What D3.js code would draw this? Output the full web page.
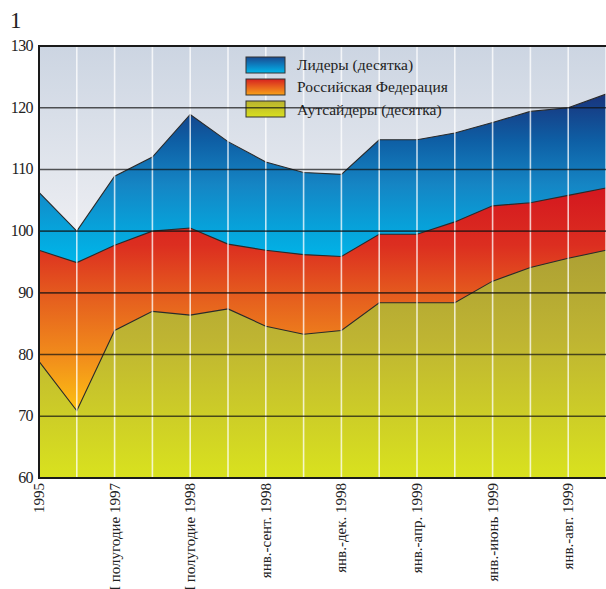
<!DOCTYPE html>
<meta charset="utf-8">
<head>
<title>Индекс</title>
<script src="https://d3js.org/d3.v7.min.js"></script>
<style>
  body { margin: 0; background: #fff; }
  svg text { font-family: "Liberation Serif", "DejaVu Serif", serif; fill: #222; }
</style>
</head>
<body>
<div id="chart"></div>
<script>
    // tick labels along the bottom (every second point is labelled)
    let periods = ["1995", "", "I полугодие 1997", "", "I полугодие 1998", "", "янв.-сент. 1998", "",
                   "янв.-дек. 1998", "", "янв.-апр. 1999", "", "янв.-июнь 1999", "", "янв.-авг. 1999", ""];
    let leaders   = [106.3, 100.0, 108.9, 112.0, 118.9, 114.5, 111.2, 109.5, 109.2, 114.8, 114.8, 115.9, 117.6, 119.4, 120.0, 122.2];
    let russia    = [96.9, 94.9, 97.7, 100.0, 100.5, 97.9, 96.9, 96.2, 95.9, 99.5, 99.5, 101.5, 104.1, 104.6, 105.8, 107.0];
    let outsiders = [78.9, 70.9, 83.9, 87.0, 86.4, 87.4, 84.6, 83.3, 83.9, 88.4, 88.4, 88.4, 91.9, 94.1, 95.6, 96.9];
    let yTicks = [60, 70, 80, 90, 100, 110, 120, 130];
    let seriesNames = ["Лидеры (десятка)", "Российская Федерация", "Аутсайдеры (десятка)"];

    let w = 606, h = 589;
    let mLeft = 39, mRight = 606, mTop = 46, mBottom = 478;
    let serif = "'Liberation Serif', 'DejaVu Serif', serif";

    let svg = d3.select("#chart").append("svg")
                .attr("width", w)
                .attr("height", h)

    let x = d3.scalePoint().domain(d3.range(periods.length)).range([mLeft, mRight]);
    let y = d3.scaleLinear().domain([60, 130]).range([mBottom, mTop]);

    let defs = svg.append("defs");
    function grad(id, stops, y1, y2) {
        let g = defs.append("linearGradient").attr("id", id)
                    .attr("gradientUnits", "userSpaceOnUse")
                    .attr("x1", 0).attr("x2", 0).attr("y1", y1).attr("y2", y2);
        stops.forEach((s) => g.append("stop").attr("offset", s[0]).attr("stop-color", s[1]));
    }
    grad("bg", [[0, "#ccd5e2"], [1, "#f2f2f5"]], mTop, y(95));
    grad("blue", [[0, "#1a2f78"], [0.3, "#0e5fa5"], [0.55, "#1585c4"], [0.8, "#07a2da"], [1, "#00b6e9"]], y(123), y(95));
    grad("red", [[0, "#d4171f"], [0.25, "#dc2e20"], [0.5, "#e6621e"], [0.75, "#f28f1b"], [1, "#fec611"]], y(107), y(70));
    grad("olive", [[0, "#ada034"], [0.4, "#bfb532"], [1, "#d9e21e"]], y(97), y(60));
    // legend swatch gradients
    grad("lblue", [[0, "#1a4a90"], [0.5, "#0d7fc0"], [1, "#00b6e9"]], 57, 73);
    grad("lred", [[0, "#d41a1f"], [0.5, "#e65a1e"], [1, "#f59a1a"]], 78, 94);
    grad("lolive", [[0, "#b8b030"], [1, "#d6dc20"]], 100, 116);

    svg.append("rect")
       .attr("x", mLeft).attr("y", mTop)
       .attr("width", mRight - mLeft).attr("height", mBottom - mTop)
       .style("fill", "url(#bg)")

    let idx = d3.range(periods.length);
    let area = (vals) => d3.area().x((i) => x(i)).y0(y(60)).y1((i) => y(vals[i]))(idx);
    let line = (vals) => d3.line().x((i) => x(i)).y((i) => y(vals[i]))(idx);

    [[leaders, "blue"], [russia, "red"], [outsiders, "olive"]].forEach((s) => {
        svg.append("path").attr("d", area(s[0])).style("fill", "url(#" + s[1] + ")");
    });
    [leaders, russia, outsiders].forEach((v) => {
        svg.append("path").attr("d", line(v))
           .style("fill", "none").style("stroke", "#2a2a2a").style("stroke-width", 1.1);
    });

    // white vertical lines at every point
    svg.selectAll("line.v")
       .data(idx.slice(1))
       .enter()
       .append("line")
       .attr("x1", (i) => x(i)).attr("x2", (i) => x(i))
       .attr("y1", mTop).attr("y2", mBottom)
       .style("stroke", "#fff").style("stroke-opacity", 0.75).style("stroke-width", 1.6)

    // legend
    let lg = svg.append("g");
    ["lblue", "lred", "lolive"].forEach((g, k) => {
        lg.append("rect")
          .attr("x", 246).attr("y", 57 + k * 22)
          .attr("width", 39).attr("height", 16)
          .style("fill", "url(#" + g + ")").style("stroke", "#333").style("stroke-width", 1);
        lg.append("text")
          .attr("x", 297).attr("y", 70 + k * 22.3)
          .style("font-family", serif)
          .style("font-size", "15.5px")
          .text(seriesNames[k]);
    });

    // horizontal gridlines
    svg.selectAll("line.h")
       .data(yTicks.slice(1, -1))
       .enter()
       .append("line")
       .attr("x1", mLeft).attr("x2", mRight)
       .attr("y1", (d) => y(d)).attr("y2", (d) => y(d))
       .style("stroke", "#111").style("stroke-opacity", 0.7).style("stroke-width", 1.6)

    // frame
    svg.append("path")
       .attr("d", "M" + mRight + "," + mTop + "H" + mLeft + "V" + mBottom + "H" + mRight)
       .style("fill", "none").style("stroke", "#1a1a1a").style("stroke-width", 2)

    svg.selectAll("text.y")
       .data(yTicks)
       .enter()
       .append("text")
       .attr("x", 33)
       .attr("y", (d) => y(d) + 5)
       .attr("text-anchor", "end")
       .style("font-family", serif)
       .style("font-size", "16px")
       .style("letter-spacing", "-0.6px")
       .text((d) => d)

    svg.selectAll("text.x")
       .data(idx.filter((i) => periods[i] !== ""))
       .enter()
       .append("text")
       .attr("transform", (i) => "translate(" + (x(i) + 5) + "," + (mBottom + 5) + ") rotate(-90)")
       .attr("text-anchor", "end")
       .style("font-family", serif)
       .style("font-size", "15px")
       .text((i) => periods[i])

    svg.append("text")
       .attr("x", 10).attr("y", 28)
       .style("font-family", serif)
       .style("font-size", "23px")
       .text("1")
</script>
</body>
